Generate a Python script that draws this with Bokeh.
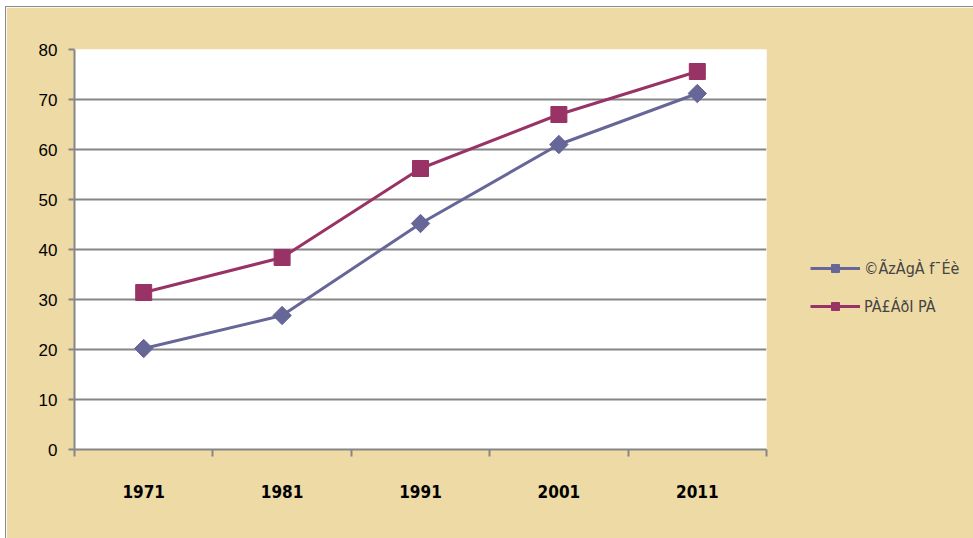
import math
from bokeh.plotting import figure
from bokeh.models import FixedTicker, Legend, LegendItem, Range1d
from bokeh.embed import file_html
from bokeh.resources import INLINE

years = ["1971", "1981", "1991", "2001", "2011"]
bidar = [20.2, 26.8, 45.2, 61.0, 71.2]
karnataka = [31.4, 38.4, 56.2, 67.0, 75.6]
series_names = ["©ÃzÀgÀ f¯Éè", "PÀ£ÁðI PÀ"]
y_ticks = [0, 10, 20, 30, 40, 50, 60, 70, 80]

xs = [i + 0.5 for i in range(len(years))]

BG = "#EEDAA4"
GRID = "#868686"
BLUE = "#666699"
RED = "#993366"
COND = "DejaVu Sans Condensed, Liberation Sans Narrow, Liberation Sans, sans-serif"

p = figure(frame_width=692, frame_height=400, output_backend="svg", toolbar_location=None,
           x_range=Range1d(0, len(years)), y_range=Range1d(0, 80),
           min_border_left=68, min_border_right=207, min_border_top=42,
           min_border_bottom=89)
p.styles = {"border": "1px solid #8c8c8c", "margin-left": "5px", "margin-top": "6px"}
p.background_fill_color = "white"
p.border_fill_color = BG
p.outline_line_color = None

# x axis
p.xaxis.ticker = FixedTicker(ticks=xs, minor_ticks=list(range(len(years) + 1)))
p.xaxis.major_label_overrides = {x: y for x, y in zip(xs, years)}
p.xaxis.major_tick_out = 0
p.xaxis.major_tick_in = 0
p.xaxis.minor_tick_out = 7
p.xaxis.minor_tick_in = 0
p.xaxis.minor_tick_line_color = GRID
p.xaxis.minor_tick_line_width = 2
p.xaxis.axis_line_color = GRID
p.xaxis.axis_line_width = 2
p.xaxis.major_label_standoff = 28
p.xaxis.major_label_text_font = COND
p.xaxis.major_label_text_font_style = "bold"
p.xaxis.major_label_text_font_size = "17px"
p.xaxis.major_label_text_color = "black"
p.xgrid.grid_line_color = None

# y axis
p.yaxis.ticker = FixedTicker(ticks=y_ticks)
p.yaxis.minor_tick_line_color = None
p.yaxis.major_tick_out = 6
p.yaxis.major_tick_in = 0
p.yaxis.major_tick_line_color = GRID
p.yaxis.major_tick_line_width = 2
p.yaxis.axis_line_color = GRID
p.yaxis.axis_line_width = 2
p.yaxis.major_label_standoff = 11
p.yaxis.major_label_text_font = "Liberation Sans"
p.yaxis.major_label_text_font_size = "17px"
p.yaxis.major_label_text_color = "black"
p.ygrid.grid_line_color = GRID
p.ygrid.grid_line_width = 2

l1 = p.line(xs, bidar, line_color=BLUE, line_width=3)
m1 = p.scatter(xs, bidar, marker="square", angle=math.pi / 4, size=13,
               fill_color=BLUE, line_color=BLUE)
l2 = p.line(xs, karnataka, line_color=RED, line_width=3)
m2 = p.scatter(xs, karnataka, marker="square", size=16, fill_color=RED, line_color=RED)

legend = Legend(items=[LegendItem(label=series_names[0], renderers=[l1, m1]),
                       LegendItem(label=series_names[1], renderers=[l2, m2])],
                location=(44, 133), orientation="vertical",
                background_fill_alpha=0, border_line_color=None,
                glyph_width=50, glyph_height=20, spacing=18,
                label_text_font=COND,
                label_text_font_size="16px", label_standoff=4,
                padding=4, margin=0)
p.add_layout(legend, "right")

open("out.html", "w").write(file_html(p, INLINE))
